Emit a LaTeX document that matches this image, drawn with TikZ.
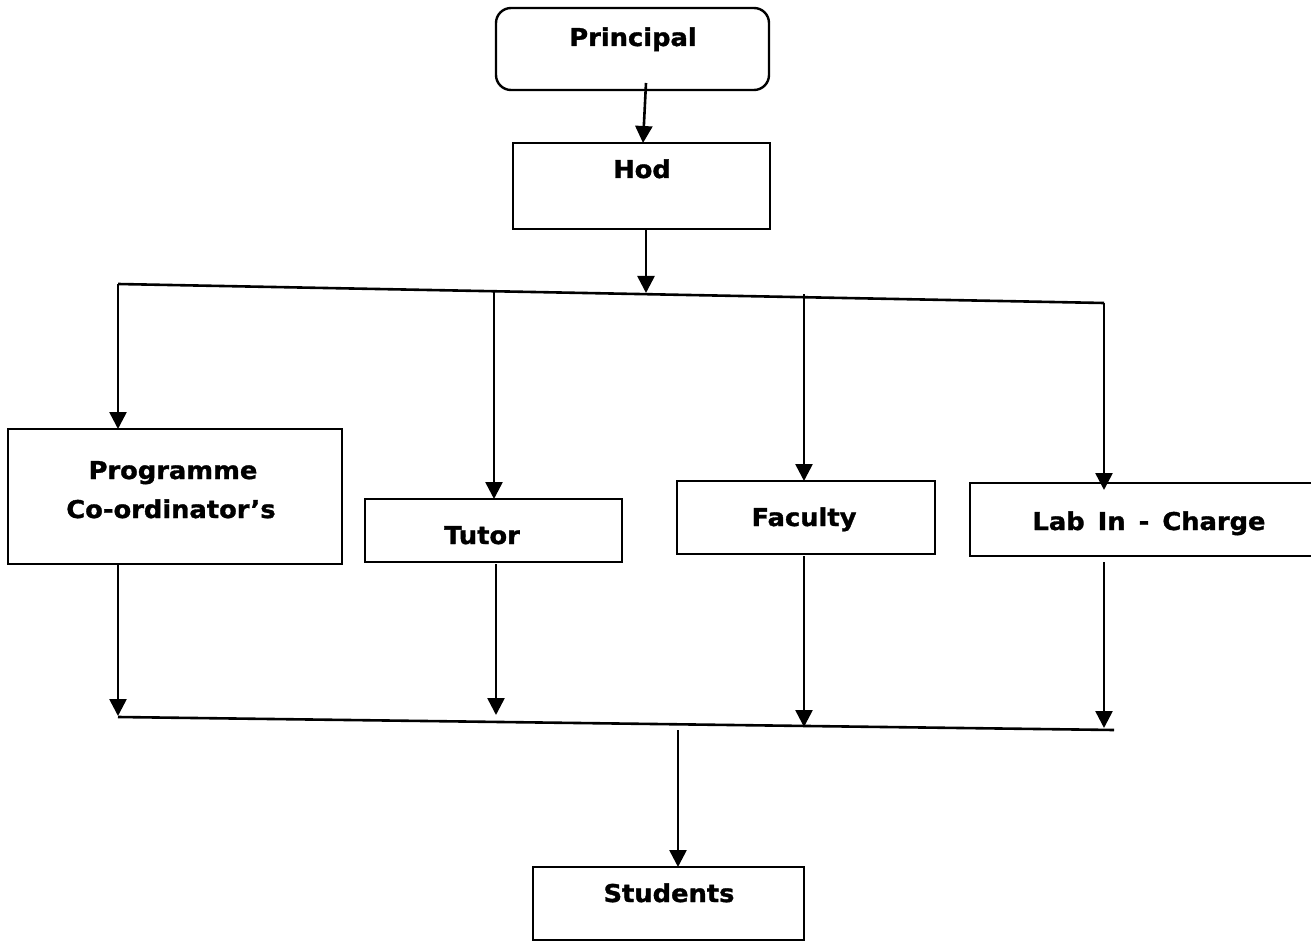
\documentclass[tikz,border=0pt]{standalone}
\usepackage{fontspec}
\setmainfont{DejaVu Sans}
\newfontfamily\lblfont{DejaVu Sans}[FakeStretch=1.05, BoldFeatures={FakeBold=1.3}]
\usetikzlibrary{arrows.meta,calc}
\begin{document}
\begin{tikzpicture}[x=1pt,y=-1pt,
  box/.style={draw, line width=2.4pt, inner sep=0pt, outer sep=0pt},
  lbl/.style={inner sep=0pt, anchor=base, font=\lblfont\fontsize{24.5}{30}\selectfont\bfseries},
  ln/.style={line width=2.6pt},
  arr/.style={line width=2.6pt, -{Triangle[width=17pt,length=17pt]}}]
\useasboundingbox (0,0) rectangle (1311,941);
% boxes
\node[box, rounded corners=15pt, minimum width=273pt, minimum height=82pt] (prin) at (632.5,49) {};
\node[box, minimum width=257pt, minimum height=86pt] (hod) at (641.5,186) {};
\node[box, minimum width=334pt, minimum height=135pt] (prog) at (175,496.5) {};
\node[box, minimum width=257pt, minimum height=63pt] (tutor) at (493.5,530.5) {};
\node[box, minimum width=258pt, minimum height=73pt] (fac) at (806,517.5) {};
\node[box, minimum width=343pt, minimum height=73pt] (lab) at (1141.5,519.5) {};
\node[box, minimum width=271pt, minimum height=73pt] (stud) at (668.5,903.5) {};
% texts
\node[lbl] (prinT) at (633,46) {Principal};
\node[lbl] (hodT) at (642,178) {Hod};
\node[lbl] (progT1) at (173,479) {Programme};
\node[lbl] (progT2) at (171,518) {Co-ordinator’s};
\node[lbl] (tutorT) at (482,544) {Tutor};
\node[lbl] (facT) at (804,526) {Faculty};
\node[lbl] (labT) at (1149,530) {Lab\ \,In\ \,-\ \,Charge};
\node[lbl] (studT) at (669,902) {Students};
% bus coordinates
\coordinate (tl) at (118,284);
\coordinate (tr) at (1104,303);
\coordinate (bl) at (118,717);
\coordinate (br) at (1114,730);
\coordinate (p1) at (646,83);
\coordinate (h1) at (646,230);
\coordinate (h2) at (646,293);
\coordinate (t1) at (494,292);
\coordinate (f1) at (804,294);
\coordinate (l2) at (1104,490);
\coordinate (pb) at (118,564);
\coordinate (pb2) at (118,716);
\coordinate (tb) at (496,564);
\coordinate (tb2) at (496,715);
\coordinate (fb) at (804,556);
\coordinate (fb2) at (804,727);
\coordinate (lb) at (1104,562);
\coordinate (lb2) at (1104,728);
\coordinate (s1) at (678,730);
% connectors
\draw[arr] (p1) -- (hod.north -| 643,0);
\draw[arr] (h1) -- (h2);
\draw[ln] (tl) -- (tr);
\draw[arr] (tl) -- (tl |- prog.north);
\draw[arr] (t1) -- (t1 |- tutor.north);
\draw[arr] (f1) -- (f1 |- fac.north);
\draw[arr] (tr) -- (l2);
\draw[arr] (pb) -- (pb2);
\draw[arr] (tb) -- (tb2);
\draw[arr] (fb) -- (fb2);
\draw[arr] (lb) -- (lb2);
\draw[ln] (bl) -- (br);
\draw[arr] (s1) -- (s1 |- stud.north);
\end{tikzpicture}
\end{document}
